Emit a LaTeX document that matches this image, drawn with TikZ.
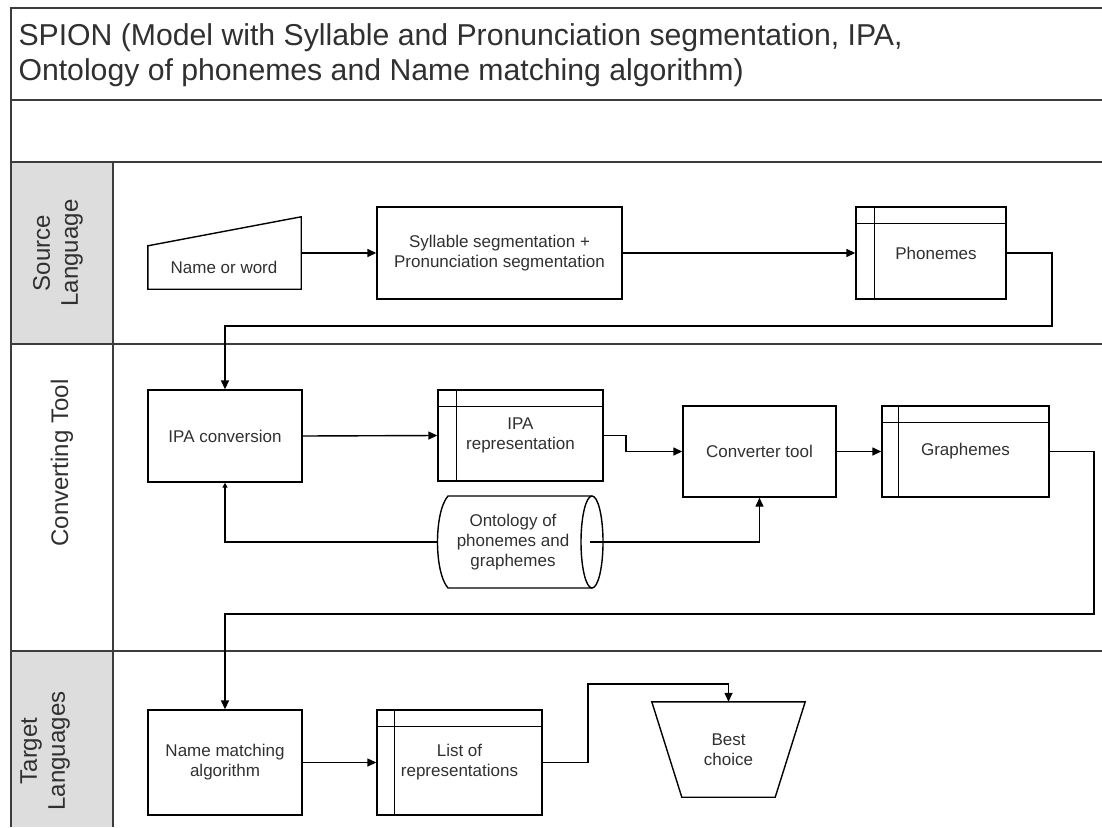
\documentclass[tikz,border=0pt]{standalone}
\usepackage{fontspec}
\setmainfont{Liberation Sans}
\usetikzlibrary{arrows.meta,calc}
\definecolor{lanegray}{HTML}{DDDDDD}
\definecolor{framec}{HTML}{3C3C3C}
\definecolor{txtc}{HTML}{303030}
\tikzset{
  box/.style={draw=black, line width=1.4pt, rectangle, inner sep=0pt, align=center,
    font=\fontsize{17}{20}\selectfont, text=txtc},
  ghost/.style={rectangle, inner sep=0pt, align=center,
    font=\fontsize{17}{20}\selectfont, text=txtc},
  conn/.style={line width=1.4pt, -{Triangle[length=9pt,width=8pt]}},
  smallconn/.style={line width=1.4pt, -{Triangle[length=5pt,width=5pt]}},
  frameline/.style={draw=framec, line width=2.3pt},
  lanetext/.style={rotate=90, align=center, font=\fontsize{24}{28}\selectfont, text=txtc},
  titletext/.style={anchor=base west, font=\fontsize{30.2}{35}\selectfont, text=txtc},
}
\newcommand\storelines[2]{%
  \draw[line width=1.4pt] ($(#1.north west)+(#2,0)$) -- ($(#1.south west)+(#2,0)$)
    ($(#1.north west)+(0,17)$) -- ($(#1.north east)+(0,17)$);}
\begin{document}
\begin{tikzpicture}[x=1pt,y=-1pt]
\useasboundingbox (0,0) rectangle (1102,827);
% lane label fills
\fill[lanegray] (11,162) rectangle (113,344);
\fill[lanegray] (11,651) rectangle (113,827);
% frame
\draw[frameline] (11,827) -- (11,8) -- (1102,8);
\draw[frameline] (11,100) -- (1102,100);
\draw[frameline] (11,162) -- (1102,162);
\draw[frameline] (11,344) -- (1102,344);
\draw[frameline] (11,651) -- (1102,651);
\draw[frameline] (113,162) -- (113,827);
% title
\node[titletext] (t1) at (15,45) {SPION (Model with Syllable and Pronunciation segmentation, IPA,};
\node[titletext] (t2) at (15,80) {Ontology of phonemes and Name matching algorithm)};
% lane labels
\node[lanetext] (lsrc) at (58,253) {Source\\Language};
\node[lanetext] (lconv) at (62,463) {Converting Tool};
\node[lanetext] (ltgt) at (45,751) {Target\\Languages};

% ---- Source lane
\node[ghost, minimum width=153, minimum height=72] (nw) at (224.5,253) {};
\draw[line width=1.4pt] (nw.south west) -- (nw.south east) -- (nw.north east)
  -- ($(nw.north west)+(0,29)$) -- cycle;
\node[ghost] (nwtxt) at (224,267) {Name or word};
\node[box, minimum width=245, minimum height=92] (syl) at (499.5,253)
  {Syllable segmentation +\\Pronunciation segmentation};
\node[box, minimum width=150, minimum height=92] (pho) at (931,253) {\hspace*{10pt}Phonemes};
\storelines{pho}{19}

% ---- Converting lane
\node[box, minimum width=154, minimum height=92] (ipac) at (225,436) {IPA conversion};
\node[box, minimum width=165, minimum height=91] (ipar) at (520.5,435.5) {IPA\\representation};
\storelines{ipar}{19}
\node[box, minimum width=153, minimum height=91] (conv) at (759.5,451.5) {Converter tool};
\node[box, minimum width=167, minimum height=91] (gra) at (965.5,451.5) {Graphemes};
\storelines{gra}{17}
% ontology cylinder
\draw[line width=1.4pt] (592,496) -- (448,496)
  .. controls (434,512) and (434,572) .. (448,588) -- (592,588);
\draw[line width=1.4pt] (592,542) ellipse [x radius=11, y radius=46];
\node[ghost] (ont) at (513,542) {Ontology of\\phonemes and\\graphemes};
\coordinate (ontL) at (438,542);
\coordinate (ontR) at (590,542);

% ---- Target lane
\node[box, minimum width=154, minimum height=105] (nma) at (225,762.5) {Name matching\\algorithm};
\node[box, minimum width=165, minimum height=105] (lst) at (459.5,762.5) {List of\\representations};
\storelines{lst}{18}
\node[ghost, minimum width=153, minimum height=95] (best) at (728.5,749.5) {Best\\choice};
\draw[line width=1.4pt] (best.north west) -- (best.north east)
  -- ($(best.south east)+(-30,0)$) -- ($(best.south west)+(30,0)$) -- cycle;

% ---- connectors
\coordinate (c1) at (1052,326);
\coordinate (c2) at (626,451.5);
\coordinate (c3) at (1094,614);
\coordinate (c4) at (588,684);
\draw[conn] (nw.east) -- (syl.west);
\draw[conn] (syl.east) -- (pho.west);
\draw[conn] (pho.east) -| (c1) -| (ipac.north);
\draw[conn] (ipac.east) -- (ipar.west);
\draw[conn] (ipar.east) -| (c2) -- (conv.west);
\draw[conn] (conv.east) -- (gra.west);
\draw[conn] (gra.east) -| (c3) -| (nma.north);
\draw[smallconn] (ontL) -| (ipac.south);
\draw[conn] (ontR) -| (conv.south);
\draw[conn] (nma.east) -- (lst.west);
\draw[conn] (lst.east) -| (c4) -| (best.north);
\end{tikzpicture}
\end{document}
